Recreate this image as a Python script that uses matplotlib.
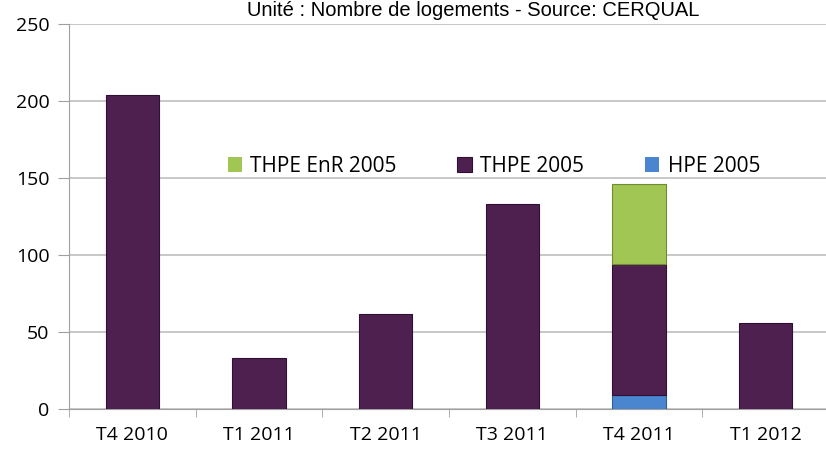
import numpy as np
import matplotlib.pyplot as plt

categories = ["T4 2010", "T1 2011", "T2 2011", "T3 2011", "T4 2011", "T1 2012"]
hpe = [0, 0, 0, 0, 9, 0]
thpe = [204, 33, 62, 133, 85, 56]
thpe_enr = [0, 0, 0, 0, 52, 0]

plt.rcParams['font.family'] = ['Open Sans', 'DejaVu Sans']

fig = plt.figure(figsize=(8.26, 4.57), dpi=100)
ax = fig.add_axes([69 / 826, 48 / 457, 760 / 826, 385 / 457])

x = np.arange(len(categories))
w = 0.42
hpe = np.array(hpe)
thpe = np.array(thpe)
thpe_enr = np.array(thpe_enr)


def lw(vals):
    # pas de contour pour les segments vides
    return np.where(vals > 0, 0.8, 0.0)


ax.bar(x, hpe, w, color="#4A86CF", edgecolor="#2F5E95", linewidth=lw(hpe), label="HPE 2005", zorder=3)
ax.bar(x, thpe, w, bottom=hpe, color="#4E2050", edgecolor="#2E1030", linewidth=lw(thpe),
       label="THPE 2005", zorder=3)
ax.bar(x, thpe_enr, w, bottom=hpe + thpe, color="#A2C653", edgecolor="#6E8B30", linewidth=lw(thpe_enr),
       label="THPE EnR 2005", zorder=3)

ax.set_xlim(-0.5, len(categories) - 0.5)
ax.set_ylim(0, 250)
ax.set_yticks(np.arange(0, 251, 50))
ax.yaxis.grid(True, color="#BFBFBF", linewidth=1.2, zorder=0)
ax.set_axisbelow(True)

ax.set_xticks(x)
ax.set_xticklabels(categories, fontsize=14)
ax.set_xticks(np.arange(-0.5, len(categories), 1), minor=True)
ax.tick_params(axis="x", which="major", length=0, pad=12)
ax.tick_params(axis="x", which="minor", length=6, color="#A0A0A0")
ax.tick_params(axis="y", labelsize=14, length=8, color="#A0A0A0", pad=6)

for side in ["top", "right"]:
    ax.spines[side].set_visible(False)
for side in ["left", "bottom"]:
    ax.spines[side].set_color("#A0A0A0")

handles, labels = ax.get_legend_handles_labels()
ax.legend(handles[::-1], labels[::-1], ncol=3, loc="center", bbox_to_anchor=(0.559, 0.63),
          frameon=False, fontsize=15, handlelength=0.7, handleheight=0.7,
          columnspacing=2.9, handletextpad=0.4)

fig.text(473 / 826, 1 - 11 / 457, "Unité : Nombre de logements - Source: CERQUAL",
         ha="center", va="center", fontsize=14.5, family=["Liberation Sans Narrow", "Liberation Sans"])

fig.savefig("out.png", dpi=100)
